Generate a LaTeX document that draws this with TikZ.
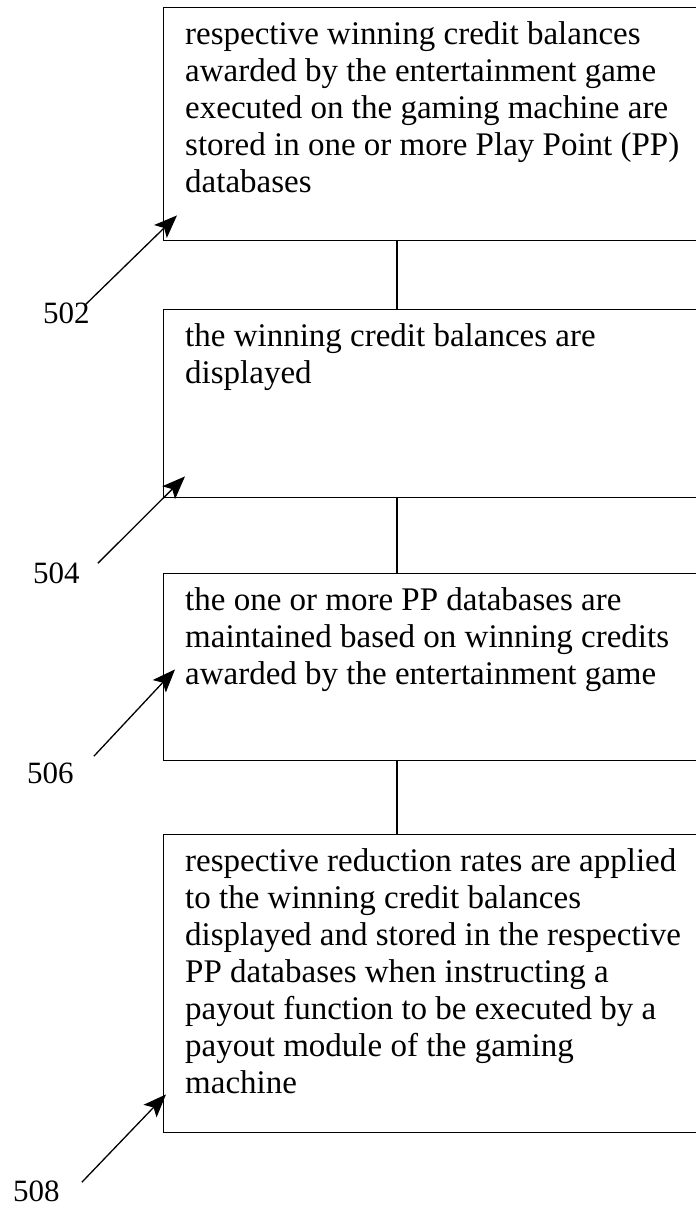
\documentclass[tikz,border=0pt]{standalone}
\usepackage{fontspec}
\setmainfont{Liberation Serif}
\usetikzlibrary{arrows.meta}
\begin{document}
\begin{tikzpicture}[x=1bp,y=-1bp,
  box/.style={draw, line width=1.4bp, rectangle, anchor=north west, minimum width=560bp, inner sep=0pt},
  txt/.style={anchor=north west, align=left, inner sep=0pt, font=\fontsize{33bp}{37bp}\selectfont},
  lab/.style={font=\fontsize{31bp}{36bp}\selectfont, inner sep=0pt, anchor=base west},
  link/.style={line width=1.4bp},
  lead/.style={line width=1.3bp, -{Stealth[length=23bp,width=18bp,inset=5bp]}}]
\useasboundingbox (0,0) rectangle (696,1211);
\clip (0,0) rectangle (696,1211);
% boxes
\node[box, minimum height=233bp] (b1) at (163,7) {};
\node[box, minimum height=188bp] (b2) at (163,309) {};
\node[box, minimum height=187bp] (b3) at (163,573) {};
\node[box, minimum height=298bp] (b4) at (163,834) {};
% texts
\node[txt] (t1) at ([shift={(22,14)}]b1.north west) {respective winning credit balances\\awarded by the entertainment game\\executed on the gaming machine are\\stored in one or more Play Point (PP)\\databases};
\node[txt] (t2) at ([shift={(22,14)}]b2.north west) {the winning credit balances are\\displayed};
\node[txt] (t3) at ([shift={(22,14)}]b3.north west) {the one or more PP databases are\\maintained based on winning credits\\awarded by the entertainment game};
\node[txt] (t4) at ([shift={(22,14)}]b4.north west) {respective reduction rates are applied\\to the winning credit balances\\displayed and stored in the respective\\PP databases when instructing a\\payout function to be executed by a\\payout module of the gaming\\machine};
% connectors
\draw[link] ([xshift=234bp]b1.south west) -- ([xshift=234bp]b2.north west);
\draw[link] ([xshift=234bp]b2.south west) -- ([xshift=234bp]b3.north west);
\draw[link] ([xshift=234bp]b3.south west) -- ([xshift=234bp]b4.north west);
% labels
\node[lab] (l502) at (43,323) {502};
\node[lab] (l504) at (33,583) {504};
\node[lab] (l506) at (27,783) {506};
\node[lab] (l508) at (13,1201) {508};
\draw[lead] ([shift={(-4,2)}]l502.north east) -- ([shift={(14,-26)}]b1.south west);
\draw[lead] ([shift={(18,1)}]l504.north east) -- ([shift={(22,-22)}]b2.south west);
\draw[lead] ([shift={(20,-6)}]l506.north east) -- ([shift={(12,-92)}]b3.south west);
\draw[lead] ([shift={(22,2)}]l508.north east) -- ([shift={(3,-39)}]b4.south west);
\end{tikzpicture}
\end{document}
